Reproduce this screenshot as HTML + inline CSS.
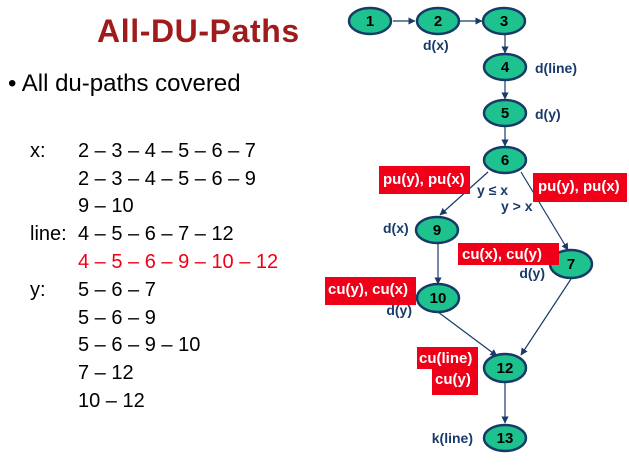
<!DOCTYPE html>
<html><head><style>
body{margin:0;width:629px;height:465px;background:#fff;overflow:hidden;font-family:"Liberation Sans",sans-serif;}
.t{position:absolute;white-space:nowrap;}
.r{position:absolute;background:#f00018;color:#fff;font-weight:bold;font-size:15px;line-height:1;white-space:nowrap;}
</style></head><body>
<div class="t" style="left:97px;top:13px;font-size:32px;font-weight:bold;color:#a01c1c;letter-spacing:0.6px;">All-DU-Paths</div>
<div class="t" style="left:8px;top:70px;font-size:24px;color:#000;">• All du-paths covered</div>
<div style="position:absolute;left:30px;top:138px;font-size:20px;line-height:27.8px;color:#000;">
<div class="t" style="top:0">x:</div>
<div class="t" style="top:83px">line:</div>
<div class="t" style="top:139px">y:</div>
<div class="t" style="left:48px;top:0">2 – 3 – 4 – 5 – 6 – 7</div>
<div class="t" style="left:48px;top:28px">2 – 3 – 4 – 5 – 6 – 9</div>
<div class="t" style="left:48px;top:55px">9 – 10</div>
<div class="t" style="left:48px;top:83px">4 – 5 – 6 – 7 – 12</div>
<div class="t" style="left:48px;top:111px;color:#f00018">4 – 5 – 6 – 9 – 10 – 12</div>
<div class="t" style="left:48px;top:139px">5 – 6 – 7</div>
<div class="t" style="left:48px;top:167px">5 – 6 – 9</div>
<div class="t" style="left:48px;top:194px">5 – 6 – 9 – 10</div>
<div class="t" style="left:48px;top:222px">7 – 12</div>
<div class="t" style="left:48px;top:250px">10 – 12</div>
</div>
<svg width="629" height="465" style="position:absolute;left:0;top:0">
<defs><marker id="a" markerWidth="6" markerHeight="6" refX="5.5" refY="3" orient="auto"><path d="M0,0 L6,3 L0,6 z" fill="#1a3a6b"/></marker></defs>
<g stroke="#1a3a6b" stroke-width="1.2" marker-end="url(#a)">
<line x1="393" y1="21" x2="415" y2="21"/>
<line x1="460" y1="21" x2="482" y2="21"/>
<line x1="505" y1="35" x2="505" y2="53"/>
<line x1="505" y1="81" x2="505" y2="99"/>
<line x1="505" y1="127" x2="505" y2="146"/>
<line x1="488" y1="172" x2="440" y2="215"/>
<line x1="521" y1="172" x2="568" y2="250"/>
<line x1="438" y1="244" x2="438" y2="284"/>
<line x1="438" y1="312" x2="497" y2="356"/>
<line x1="571" y1="279" x2="521" y2="355"/>
<line x1="505" y1="382" x2="505" y2="423"/>
</g>
<g fill="#1dc28f" stroke="#173a66" stroke-width="2.5">
<ellipse cx="370" cy="21" rx="21" ry="13"/>
<ellipse cx="438" cy="21" rx="21" ry="13"/>
<ellipse cx="504" cy="21" rx="21" ry="13"/>
<ellipse cx="505" cy="67" rx="21" ry="13"/>
<ellipse cx="505" cy="113" rx="21" ry="13"/>
<ellipse cx="505" cy="160" rx="21" ry="13"/>
<ellipse cx="437" cy="230" rx="21" ry="13"/>
<ellipse cx="571" cy="264" rx="21" ry="14"/>
<ellipse cx="438" cy="298" rx="21" ry="14"/>
<ellipse cx="505" cy="368" rx="21" ry="14"/>
<ellipse cx="505" cy="438" rx="21" ry="13"/>
</g>
<g font-family="Liberation Sans" font-weight="bold" font-size="15" text-anchor="middle" fill="#000">
<text x="370" y="26">1</text><text x="438" y="26">2</text><text x="504" y="26">3</text>
<text x="505" y="72">4</text><text x="505" y="118">5</text><text x="505" y="165">6</text>
<text x="437" y="235">9</text><text x="571" y="269">7</text><text x="438" y="303">10</text>
<text x="505" y="373">12</text><text x="505" y="443">13</text>
</g>
<g font-family="Liberation Sans" font-weight="bold" font-size="14" fill="#1a3a6b">
<text x="423" y="50">d(x)</text>
<text x="535" y="73">d(line)</text>
<text x="535" y="119">d(y)</text>
<text x="477" y="195">y ≤ x</text>
<text x="501" y="211">y &gt; x</text>
<text x="383" y="233">d(x)</text>
<text x="545" y="278" text-anchor="end">d(y)</text>
<text x="412" y="315" text-anchor="end">d(y)</text>
<text x="473" y="443" text-anchor="end">k(line)</text>
</g>
</svg>
<div class="r" style="left:379px;top:166px;width:91px;height:28px;padding:6px 0 0 4px;box-sizing:border-box;">pu(y), pu(x)</div>
<div class="r" style="left:533px;top:173px;width:94px;height:29px;padding:6px 0 0 5px;box-sizing:border-box;">pu(y), pu(x)</div>
<div class="r" style="left:458px;top:243px;width:101px;height:22px;padding:4px 0 0 4px;box-sizing:border-box;">cu(x), cu(y)</div>
<div class="r" style="left:325px;top:277px;width:91px;height:28px;padding:5px 0 0 3px;box-sizing:border-box;">cu(y), cu(x)</div>
<div class="r" style="left:417px;top:347px;width:61px;height:22px;padding:4px 0 0 2px;box-sizing:border-box;">cu(line)</div>
<div class="r" style="left:432px;top:369px;width:46px;height:26px;padding:3px 0 0 3px;box-sizing:border-box;">cu(y)</div>
</body></html>
